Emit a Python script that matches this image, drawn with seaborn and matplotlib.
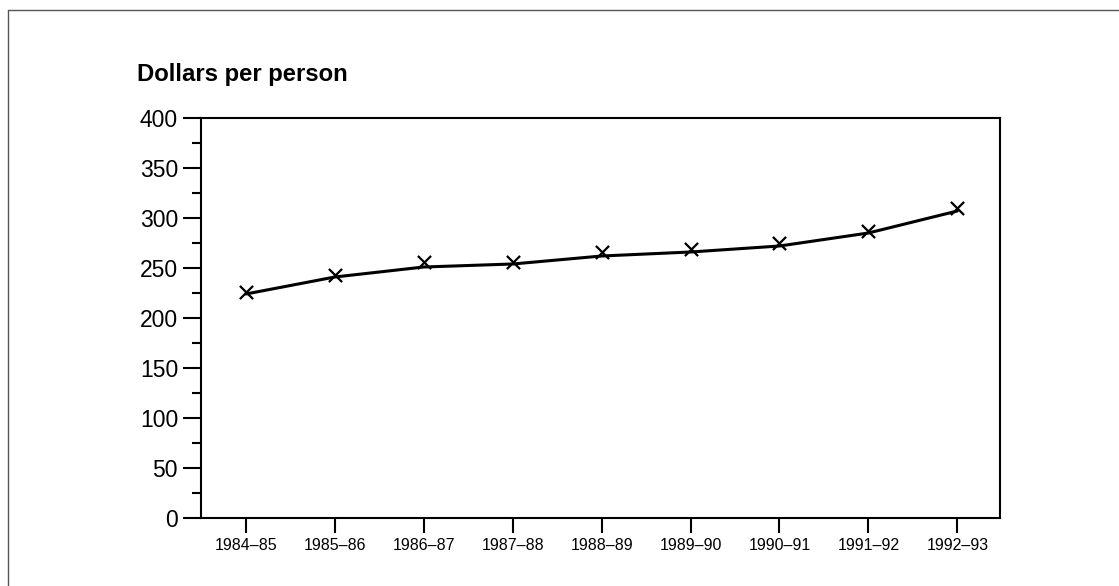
import numpy as np
import pandas as pd
import matplotlib
matplotlib.use("Agg")
import matplotlib.pyplot as plt
from matplotlib.lines import Line2D
from matplotlib.ticker import MultipleLocator
import seaborn as sns

years = ["1984–85", "1985–86", "1986–87", "1987–88", "1988–89",
         "1989–90", "1990–91", "1991–92", "1992–93"]
actual = [226, 243, 256, 256, 266, 269, 275, 287, 310]
trend = [224, 241, 251, 254, 262, 266, 272, 285, 307]

df = pd.DataFrame({"pos": np.arange(len(years)), "year": years,
                   "actual": actual, "trend": trend})

sns.set_style("ticks")
plt.rcParams["font.family"] = ["Liberation Sans", "DejaVu Sans"]
plt.rcParams["text.color"] = "black"
plt.rcParams["xtick.color"] = "black"
plt.rcParams["ytick.color"] = "black"

fig = plt.figure(figsize=(11.19, 5.86), dpi=100)
ax = fig.add_axes([201 / 1119, 1 - 518 / 586, 799 / 1119, 400 / 586])

sns.lineplot(data=df, x="pos", y="trend", color="black", linewidth=2.2, ax=ax)
sns.scatterplot(data=df, x="pos", y="actual", marker="x", color="black",
                s=90, linewidth=1.6, ax=ax, zorder=3)

ax.set_xlim(-0.505, 8.48)
ax.set_ylim(0, 400)
ax.set_xticks(df["pos"])
ax.set_xticklabels(years, fontsize=11.5)
ax.yaxis.set_major_locator(MultipleLocator(50))
ax.yaxis.set_minor_locator(MultipleLocator(25))
ax.tick_params(axis="y", which="major", length=13, width=1.5, labelsize=16.5, pad=3.5)
ax.tick_params(axis="y", which="minor", length=6.5, width=1.5)
ax.tick_params(axis="x", length=10.5, width=1.5, pad=4)
ax.set_xlabel("")
ax.set_ylabel("")
for sp in ax.spines.values():
    sp.set_visible(True)
    sp.set_linewidth(1.5)
    sp.set_color("black")

fig.text(137 / 1119, 1 - 75 / 586, "Dollars per person", fontsize=17.2,
         fontweight="bold", va="center", ha="left")

# outer frame (top and left edges only)
fig.add_artist(Line2D([8 / 1119, 1], [1 - 10 / 586, 1 - 10 / 586],
                      transform=fig.transFigure, color="#555555", linewidth=1))
fig.add_artist(Line2D([8 / 1119, 8 / 1119], [0, 1 - 10 / 586],
                      transform=fig.transFigure, color="#555555", linewidth=1))

fig.savefig("out.png", dpi=100)
